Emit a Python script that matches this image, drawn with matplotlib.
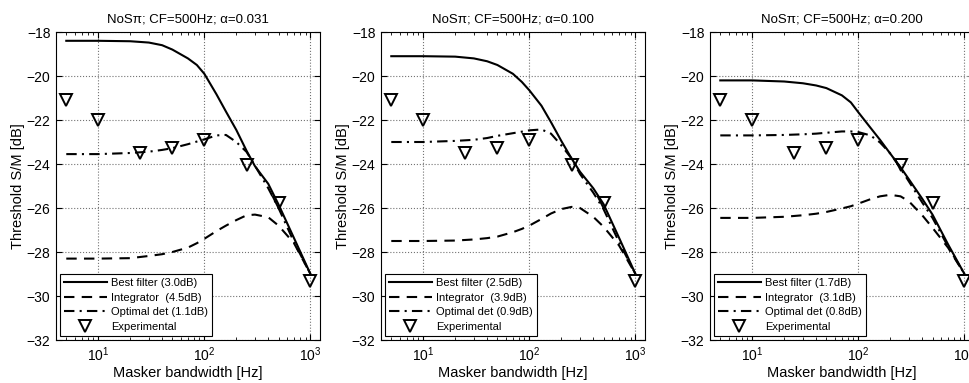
import matplotlib
matplotlib.use("Agg")
import matplotlib.pyplot as plt
from matplotlib.ticker import LogLocator, NullFormatter, MultipleLocator

plt.rcParams['font.family'] = ['Liberation Sans', 'DejaVu Sans']
plt.rcParams['mathtext.fontset'] = 'custom'
plt.rcParams['mathtext.rm'] = 'Liberation Sans'
plt.rcParams['mathtext.it'] = 'Liberation Sans:italic'

# masker bandwidth grid where the model curves were read [Hz]
bw = [5, 10, 20, 30, 40, 50, 70, 85, 100, 130, 160, 200, 250, 300, 400, 500, 700, 1000]

alphas = ["0.031", "0.100", "0.200"]

# model thresholds [dB], one list per panel
best_031 = [-18.4, -18.4, -18.42, -18.48, -18.6, -18.8, -19.2, -19.5, -19.9, -20.83, -21.62,
            -22.45, -23.4, -24.1, -24.9, -25.84, -27.37, -29.0]
integ_031 = [-28.3, -28.3, -28.28, -28.18, -28.1, -28.0, -27.8, -27.6, -27.4, -27.05, -26.8,
             -26.55, -26.33, -26.3, -26.42, -26.8, -27.6, -29.0]
optim_031 = [-23.55, -23.55, -23.5, -23.44, -23.36, -23.28, -23.1, -22.98, -22.88, -22.7,
             -22.68, -23.0, -23.45, -24.08, -25.1, -26.0, -27.55, -29.0]

best_100 = [-19.1, -19.1, -19.12, -19.2, -19.33, -19.5, -19.9, -20.27, -20.65, -21.35, -22.1,
            -22.95, -23.75, -24.35, -25.1, -25.82, -27.35, -29.0]
integ_100 = [-27.5, -27.5, -27.48, -27.43, -27.37, -27.3, -27.1, -26.95, -26.8, -26.5, -26.25,
             -26.05, -25.95, -26.0, -26.4, -26.85, -27.7, -29.0]
optim_100 = [-23.0, -23.0, -22.95, -22.9, -22.82, -22.72, -22.6, -22.53, -22.47, -22.43,
             -22.62, -23.15, -23.75, -24.45, -25.3, -26.05, -27.55, -29.0]

best_200 = [-20.2, -20.2, -20.25, -20.33, -20.43, -20.55, -20.88, -21.2, -21.65, -22.35, -22.9,
            -23.53, -24.15, -24.7, -25.58, -26.3, -27.65, -29.0]
integ_200 = [-26.45, -26.45, -26.4, -26.33, -26.26, -26.18, -26.02, -25.92, -25.8, -25.6,
             -25.47, -25.4, -25.47, -25.7, -26.33, -26.9, -27.8, -29.0]
optim_200 = [-22.7, -22.7, -22.68, -22.65, -22.62, -22.58, -22.52, -22.52, -22.55, -22.7,
             -23.02, -23.52, -24.2, -24.8, -25.75, -26.45, -27.75, -29.0]

# experimental thresholds (same in all panels)
exp_bw = [5, 10, 25, 50, 100, 250, 500, 1000]
exp_thr = [-21.1, -22.0, -23.5, -23.25, -22.9, -24.05, -25.75, -29.3]

# rms errors shown in the legends [dB]
err_best = ["3.0", "2.5", "1.7"]
err_integ = ["4.5", "3.9", "3.1"]
err_optim = ["1.1", "0.9", "0.8"]

best = [best_031, best_100, best_200]
integ = [integ_031, integ_100, integ_200]
optim = [optim_031, optim_100, optim_200]

fig = plt.figure(figsize=(9.7, 3.83), dpi=100)
lefts = [56, 381, 710]

for i in range(3):
    ax = fig.add_axes([lefts[i] / 970, 43 / 383, 264 / 970, 308 / 383])
    ax.semilogx(bw, best[i], color='k', ls='-', lw=1.5,
                label="Best filter ({}dB)".format(err_best[i]))
    ax.semilogx(bw, integ[i], color='k', ls='--', lw=1.5, dashes=(5, 3.5),
                label="Integrator  ({}dB)".format(err_integ[i]))
    ax.semilogx(bw, optim[i], color='k', ls='-.', lw=1.5, dashes=(5, 2.5, 1, 2.5),
                label="Optimal det ({}dB)".format(err_optim[i]))
    ax.semilogx(exp_bw, exp_thr, ls='none', marker='v', ms=8.5, mfc='none', mec='k',
                mew=1.4, label="Experimental")

    ax.set_xlim(4, 1230)
    ax.set_ylim(-32, -18)
    ax.yaxis.set_major_locator(MultipleLocator(2))
    ax.xaxis.set_major_locator(LogLocator(base=10))
    ax.xaxis.set_minor_locator(LogLocator(base=10, subs=range(2, 10)))
    ax.xaxis.set_minor_formatter(NullFormatter())
    ax.grid(True, which='major', ls=':', color='0.45', lw=0.8)
    ax.tick_params(which='both', direction='in', top=True, right=True, labelsize=10)
    ax.tick_params(which='major', length=4, pad=4)
    ax.tick_params(which='minor', length=2.5)
    for s in ax.spines.values():
        s.set_linewidth(0.8)

    ax.set_title("NoS\u03c0; CF=500Hz; \u03b1=" + alphas[i], fontsize=9.5, pad=7)
    ax.set_xlabel("Masker bandwidth [Hz]", fontsize=10.5, labelpad=1)
    ax.set_ylabel("Threshold S/M [dB]", fontsize=10.5, labelpad=1)

    leg = ax.legend(loc='lower left', fontsize=8, fancybox=False, edgecolor='k',
                    framealpha=1, handlelength=3.8, handletextpad=0.4, borderpad=0.35,
                    labelspacing=0.4, borderaxespad=0.4)
    leg.get_frame().set_linewidth(0.8)

plt.savefig("out.png", dpi=100)
